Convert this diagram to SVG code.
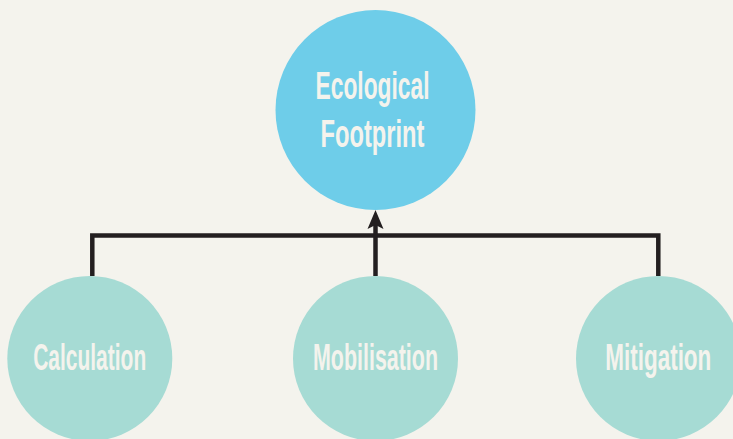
<svg xmlns="http://www.w3.org/2000/svg" width="733" height="439" viewBox="0 0 733 439">
<style>
.lbl{font-family:"Liberation Sans","DejaVu Sans",Arial,sans-serif;font-weight:bold;font-size:36px;fill:#f4f3ed;text-anchor:middle}
.big{font-size:39px}
.sub{fill:#a6dbd4}
.conn{fill:none;stroke:#231f20;stroke-width:4.5;stroke-linejoin:miter;stroke-linecap:butt}
</style>
<defs>
<marker id="ah" markerUnits="userSpaceOnUse" markerWidth="22" markerHeight="18" viewBox="0 0 22 18" refX="6" refY="9" orient="auto">
<path d="M20 9 L1 1 L5 9 L1 17 Z" fill="#231f20"/>
</marker>
</defs>
<rect width="733" height="439" fill="#f4f3ed"/>
<g id="connectors">
<path class="conn" d="M92.3 276 V235.5 H658.3 V276"/>
<path class="conn" d="M375.5 276 V224" marker-end="url(#ah)"/>
</g>
<g id="node-ecological-footprint">
<circle cx="375.5" cy="110" r="100" fill="#6ecde9"/>
<text class="lbl big" x="372.5" y="99" textLength="114" lengthAdjust="spacingAndGlyphs">Ecological</text>
<text class="lbl big" x="372.5" y="146.5" textLength="104" lengthAdjust="spacingAndGlyphs">Footprint</text>
</g>
<g id="node-calculation">
<circle class="sub" cx="89.8" cy="358.5" r="82.5"/>
<text class="lbl" x="89.7" y="369.5" textLength="113" lengthAdjust="spacingAndGlyphs">Calculation</text>
</g>
<g id="node-mobilisation">
<circle class="sub" cx="375.5" cy="358.5" r="82.5"/>
<text class="lbl" x="375.5" y="369.5" textLength="125" lengthAdjust="spacingAndGlyphs">Mobilisation</text>
</g>
<g id="node-mitigation">
<circle class="sub" cx="658.5" cy="358.5" r="82.5"/>
<text class="lbl" x="658.3" y="369.5" textLength="106" lengthAdjust="spacingAndGlyphs">Mitigation</text>
</g>
</svg>
